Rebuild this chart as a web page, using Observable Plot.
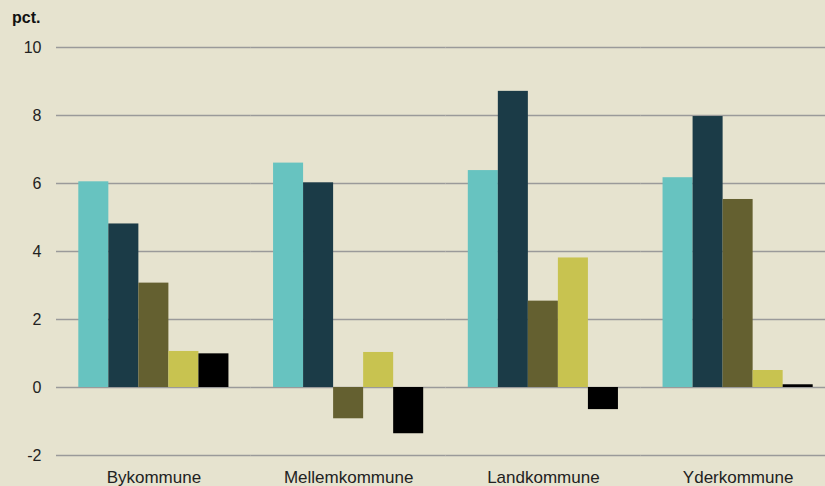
<!DOCTYPE html>
<html><head><meta charset="utf-8">
<script src="https://cdn.jsdelivr.net/npm/d3@7"></script>
<script src="https://cdn.jsdelivr.net/npm/@observablehq/plot@0.6"></script>
<style>
html,body{margin:0;padding:0;background:#e6e3cf;overflow:hidden;width:825px;height:486px}
#title{height:30px;position:relative;font:bold 16px "Liberation Sans",Arial,sans-serif;color:#111}
#title span{position:absolute;left:12px;top:9px}
#chart svg{overflow:hidden}
</style></head>
<body>
<div id="title"><span>pct.</span></div>
<div id="chart"></div>
<script>
const groups = ["Bykommune", "Mellemkommune", "Landkommune", "Yderkommune"];
const series = ["Serie 1", "Serie 2", "Serie 3", "Serie 4", "Serie 5"];
const colors = ["#67c3c0", "#1b3b47", "#646030", "#c8c350", "#000000"];
const yTicks = [-2, 0, 2, 4, 6, 8, 10];

const serie1 = [6.05, 6.60, 6.38, 6.17];
const serie2 = [4.81, 6.02, 8.71, 7.97];
const serie3 = [3.07, -0.92, 2.54, 5.53];
const serie4 = [1.06, 1.03, 3.81, 0.50];
const serie5 = [0.99, -1.36, -0.65, 0.08];
const seriesValues = [serie1, serie2, serie3, serie4, serie5];

const data = [];
groups.forEach((g, gi) => series.forEach((s, si) => data.push({group: g, series: s, value: seriesValues[si][gi]})));

const chart = Plot.plot({
  width: 825,
  height: 456,
  marginTop: 17,
  marginBottom: 31,
  marginLeft: 56,
  marginRight: -10,
  style: {background: "transparent", fontFamily: "'Liberation Sans', Arial, sans-serif", fontSize: "16px", color: "#222"},
  fx: {domain: groups, padding: 0, round: false},
  x: {domain: series, paddingInner: 0, paddingOuter: 0.743, round: false},
  y: {domain: [-2, 10]},
  color: {domain: series, range: colors},
  marks: [
    Plot.gridY(yTicks, {stroke: "#9a9a9a", strokeOpacity: 1, strokeWidth: 1.6}),
    Plot.axisY(yTicks, {tickSize: 0, tickPadding: 15, label: null, fontSize: 16,
      tickFormat: d => (d < 0 ? "-" + Math.abs(d) : String(d))}),
    Plot.axisFx({anchor: "bottom", tickSize: 0, tickPadding: 15, label: null, fontSize: 17}),
    Plot.axisX({ticks: [], label: null, tickSize: 0}),
    Plot.barY(data, {fx: "group", x: "series", y: "value", fill: "series"})
  ]
});
document.getElementById("chart").appendChild(chart);
</script>
</body></html>
